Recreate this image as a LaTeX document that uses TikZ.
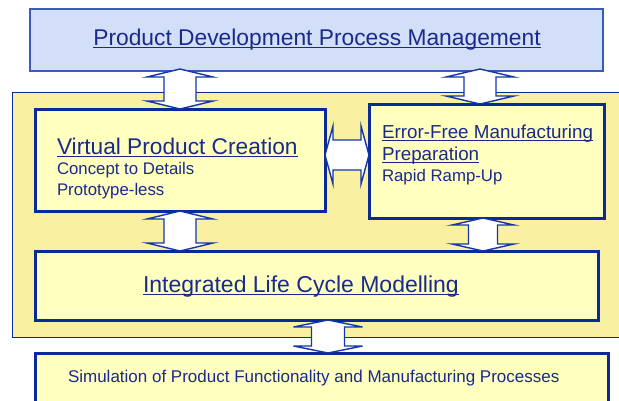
\documentclass[tikz,border=0pt]{standalone}
\usepackage{fontspec}
\setmainfont{Liberation Sans}
\usetikzlibrary{calc}
\definecolor{txtblue}{HTML}{1A2A8C}
\definecolor{boxblue}{HTML}{0A2A9A}
\definecolor{topfill}{HTML}{D3DFF9}
\definecolor{topline}{HTML}{3A5CC0}
\definecolor{yfill}{HTML}{FFFFC0}
\definecolor{bgfill}{HTML}{FAF0A2}
\definecolor{arrline}{HTML}{1536A8}
\newcommand{\ulx}[1]{\setbox0\hbox{#1}\rlap{\rule[-0.14em]{\wd0}{0.055em}}\box0}
\newcommand{\VArr}[5]{% top tip, bottom tip, head half width, shaft half width, head length
  \draw[bigarrow] let \p1=#1, \p2=#2 in
    (\x1,\y1) -- ++(#3,#5) -- ++(-#3+#4,0) -- (\x2+#4bp,\y2+#5bp) -- ++(#3-#4,0) -- (\x2,\y2)
    -- ++(-#3,-#5) -- ++(#3-#4,0) -- (\x1-#4bp,\y1-#5bp) -- ++(-#3+#4,0) -- cycle;}
\newcommand{\HArr}[5]{% left tip, right tip, head half height, shaft half height, head length
  \draw[bigarrow] let \p1=#1, \p2=#2 in
    (\x1,\y1) -- ++(#5,-#3) -- ++(0,#3-#4) -- (\x2-#5bp,\y2+#4bp) -- ++(0,-#3+#4) -- (\x2,\y2)
    -- ++(-#5,#3) -- ++(0,-#3+#4) -- (\x1+#5bp,\y1-#4bp) -- ++(0,#3-#4) -- cycle;}
\tikzset{
  bigarrow/.style={draw=arrline, line width=1.4bp, fill=white, line join=miter},
  ybox/.style={draw=boxblue, line width=3bp, fill=yfill, anchor=north west, inner sep=0pt, outer sep=0pt},
  tbox/.style={draw=topline, line width=1.2bp, fill=topfill, anchor=north west, inner sep=0pt, outer sep=0pt},
  lbl/.style={text=txtblue, inner sep=0pt, outer sep=0pt},
}
\begin{document}
\begin{tikzpicture}[x=1bp,y=-1bp]
\useasboundingbox (0,0) rectangle (619,400);
\begin{scope}
\clip (0,0) rectangle (619,400);
% dotted background
\node[draw=boxblue, line width=0.8bp, fill=bgfill, anchor=north west, inner sep=0pt,
      minimum width=620bp, minimum height=245bp] (bg) at (12,92) {};
% top box
\node[tbox, minimum width=573bp, minimum height=62bp] (top) at (30,9) {};
% inner boxes
\node[ybox, minimum width=290bp, minimum height=102bp] (vpc) at (35,109) {};
\node[ybox, minimum width=235bp, minimum height=114bp] (efm) at (369,104) {};
\node[ybox, minimum width=563bp, minimum height=69bp] (ilc) at (35,251) {};
\node[ybox, minimum width=573bp, minimum height=70bp] (sim) at (35,353) {};
% arrow reference coordinates
\coordinate (ax1) at (180,69);
\coordinate (ax2) at (480,69);
\coordinate (ax4) at (483,0);
\coordinate (ax5) at (328,0);
\coordinate (ay) at (0,155);
\VArr{(ax1)}{(vpc.north -| ax1)}{33}{16}{8}
\VArr{(ax2)}{(efm.north -| ax2)}{34}{16}{8}
\VArr{(vpc.south -| ax1)}{(ilc.north -| ax1)}{33}{16}{8}
\VArr{(efm.south -| ax4)}{(ilc.north -| ax4)}{31}{14.5}{7}
\VArr{(ilc.south -| ax5)}{(sim.north -| ax5)}{34.5}{16.5}{7}
\HArr{(vpc.east |- ay)}{(efm.west |- ay)}{29}{15}{8}
% texts
\node[lbl, anchor=base] (ttop) at (317,45) {\fontsize{22.8bp}{26bp}\selectfont\ulx{Product Development Process Management}};
\node[lbl, anchor=base west] (tvpc1) at (57,154) {\fontsize{22.7bp}{26bp}\selectfont\ulx{Virtual Product Creation}};
\node[lbl, anchor=base west] (tvpc2) at (57,174) {\fontsize{16.8bp}{19bp}\selectfont Concept to Details};
\node[lbl, anchor=base west] (tvpc3) at (57,195) {\fontsize{16.8bp}{19bp}\selectfont Prototype-less};
\node[lbl, anchor=base west] (tefm1) at (382,138) {\fontsize{18.8bp}{22bp}\selectfont\ulx{Error-Free Manufacturing}};
\node[lbl, anchor=base west] (tefm2) at (382,160) {\fontsize{18.8bp}{22bp}\selectfont\ulx{Preparation}};
\node[lbl, anchor=base west] (tefm3) at (382,181) {\fontsize{16.8bp}{19bp}\selectfont Rapid Ramp-Up};
\node[lbl, anchor=base west] (tilc) at (143,292) {\fontsize{23bp}{26bp}\selectfont\ulx{Integrated Life Cycle Modelling}};
\node[lbl, anchor=base west] (tsim) at (68,382) {\fontsize{17bp}{20bp}\selectfont Simulation of Product Functionality and Manufacturing Processes};
\end{scope}
\end{tikzpicture}
\end{document}
